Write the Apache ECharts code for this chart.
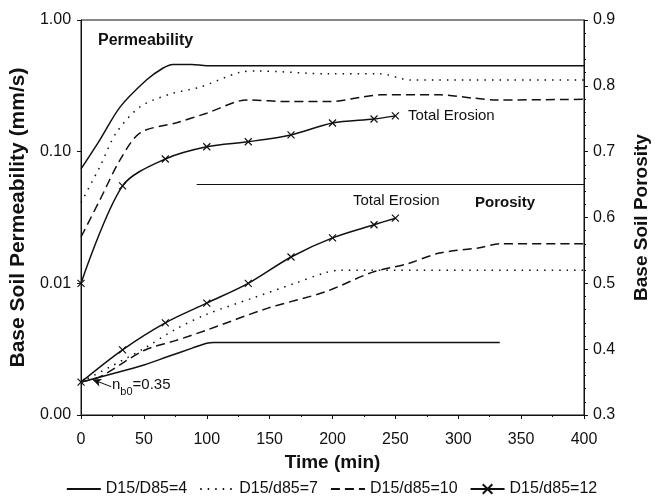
<!DOCTYPE html>
<html><head><meta charset="utf-8">
<script src="https://cdn.jsdelivr.net/npm/echarts@6/dist/echarts.min.js"></script>
<style>html,body{margin:0;padding:0;background:#fff}#c{width:663px;height:499px}</style>
</head><body><div id="c"></div>
<script>
// ---- data ----
const seriesNames = ['D15/D85=4', 'D15/d85=7', 'D15/d85=10', 'D15/d85=12'];

// Permeability (mm/s), left log axis
const permT4  = [0, 15, 31, 52, 65, 73, 88, 100, 400];
const perm4   = [0.074, 0.123, 0.218, 0.35, 0.43, 0.46, 0.46, 0.45, 0.45];
const permT7  = [0, 15, 28, 47, 71, 95, 126, 140, 198, 238, 262, 400];
const perm7   = [0.041, 0.077, 0.139, 0.219, 0.274, 0.31, 0.40, 0.41, 0.39, 0.39, 0.35, 0.35];
const permT10 = [0, 15, 31, 47, 76, 100, 132, 166, 198, 224, 238, 286, 312, 331, 400];
const perm10  = [0.0225, 0.043, 0.0865, 0.139, 0.166, 0.196, 0.247, 0.24, 0.24, 0.26, 0.27, 0.27, 0.255, 0.247, 0.25];
const permT12 = [0, 33, 67, 100, 133, 167, 200, 233, 250];
const perm12  = [0.01, 0.055, 0.088, 0.109, 0.119, 0.134, 0.165, 0.177, 0.187];

// Porosity, right linear axis
const porT4  = [0, 50, 68, 89, 100, 106, 333];
const por4   = [0.35, 0.376, 0.388, 0.402, 0.409, 0.41, 0.41];
const porT7  = [0, 25, 50, 75, 100, 137, 170, 194, 206, 400];
const por7   = [0.35, 0.375, 0.401, 0.43, 0.453, 0.478, 0.50, 0.516, 0.52, 0.52];
const porT10 = [0, 15, 50, 75, 100, 148, 194, 232, 260, 285, 317, 333, 400];
const por10  = [0.35, 0.358, 0.398, 0.413, 0.429, 0.462, 0.487, 0.517, 0.53, 0.546, 0.554, 0.56, 0.56];
const porT12 = [0, 33, 67, 100, 133, 167, 200, 233, 250];
const por12  = [0.35, 0.399, 0.44, 0.47, 0.50, 0.54, 0.569, 0.589, 0.599];

// annotations (data coordinates on porosity axis)
const dividerT = [92, 400];
const dividerPor = 0.651;
const arrowFrom = [24, 0.343];
const arrowTo = [9, 0.354];

const xTickLabels = ['0', '50', '100', '150', '200', '250', '300', '350', '400'];

// ---- chart ----
const FONT = 'Liberation Sans, Arial, sans-serif';
const pair = (t, v) => t.map((x, i) => [x, v[i]]);
const crossSym = 'path://M0,0L10,10M10,0L0,10';

function lineSeries(name, data, yIdx, dash, marker) {
  const s = {
    name: name, type: 'line', yAxisIndex: yIdx, data: data,
    smooth: 0.3,
    lineStyle: { color: '#111', width: 1.5, type: dash },
    itemStyle: { color: '#111', borderColor: '#111', borderWidth: 1.2 },
    emphasis: { disabled: true }, animation: false, z: 3
  };
  if (marker) { s.symbol = crossSym; s.symbolSize = 7; s.showSymbol = true; }
  else { s.symbol = 'none'; }
  return s;
}

const dotted = [1.5, 6];
const dashed = [9, 5];

const series = [
  lineSeries(seriesNames[0], pair(permT4, perm4), 0, 'solid', false),
  lineSeries(seriesNames[1], pair(permT7, perm7), 0, dotted, false),
  lineSeries(seriesNames[2], pair(permT10, perm10), 0, dashed, false),
  lineSeries(seriesNames[3], pair(permT12, perm12), 0, 'solid', true),
  lineSeries(seriesNames[0], pair(porT4, por4), 1, 'solid', false),
  lineSeries(seriesNames[1], pair(porT7, por7), 1, dotted, false),
  lineSeries(seriesNames[2], pair(porT10, por10), 1, dashed, false),
  lineSeries(seriesNames[3], pair(porT12, por12), 1, 'solid', true)
];
series[4].markLine = {
  silent: true, animation: false,
  label: { show: false },
  symbol: ['none', 'none'],
  lineStyle: { color: '#111', width: 1, type: 'solid' },
  data: [
    [{ coord: [dividerT[0], dividerPor] }, { coord: [dividerT[1], dividerPor] }],
    [{ coord: arrowFrom, symbol: 'none' }, { coord: arrowTo, symbol: 'arrow', symbolSize: [6, 9] }]
  ]
};

const hiddenSym = { color: 'transparent', borderColor: 'transparent', borderWidth: 0, opacity: 0 };
const legendData = seriesNames.map((n, i) => i < 3 ? { name: n, itemStyle: hiddenSym } : { name: n });

const chart = echarts.init(document.getElementById('c'));
chart.setOption({
  backgroundColor: '#fff',
  animation: false,
  textStyle: { fontFamily: FONT, color: '#111' },
  grid: { left: 81, right: 79, top: 20, bottom: 84, show: true, borderColor: '#111', borderWidth: 1, backgroundColor: 'transparent' },
  legend: {
    data: legendData, left: 'center', top: 476,
    itemWidth: 34, itemHeight: 12, itemGap: 12,
    textStyle: { fontFamily: FONT, fontSize: 16, color: '#111' },
    selectedMode: false
  },
  xAxis: {
    type: 'value', min: 0, max: 400, interval: 50,
    name: 'Time (min)', nameLocation: 'middle', nameGap: 31,
    nameTextStyle: { fontFamily: FONT, fontSize: 19, fontWeight: 'bold', color: '#111' },
    axisLine: { lineStyle: { color: '#111', width: 1 } },
    axisTick: { show: true, length: 4, lineStyle: { color: '#111' } },
    minorTick: { show: true, splitNumber: 2, length: 2, lineStyle: { color: '#111' } },
    axisLabel: { fontSize: 16, color: '#111', margin: 17, formatter: v => xTickLabels[Math.round(v / 50)] },
    splitLine: { show: false }
  },
  yAxis: [
    {
      type: 'log', logBase: 10, min: 0.001, max: 1,
      name: 'Base Soil Permeability (mm/s)', nameLocation: 'middle', nameGap: 40, nameRotate: 90,
      nameTextStyle: { fontFamily: FONT, fontSize: 21, fontWeight: 'bold', color: '#111' },
      axisLine: { show: true, lineStyle: { color: '#111', width: 1 } },
      axisTick: { show: true, length: 4, lineStyle: { color: '#111' } },
      axisLabel: { fontSize: 16, color: '#111', margin: 10, formatter: v => Number(v).toFixed(2) },
      splitLine: { show: false }
    },
    {
      type: 'value', min: 0.3, max: 0.9, interval: 0.1, position: 'right',
      name: 'Base Soil Porosity', nameLocation: 'middle', nameGap: 48, nameRotate: 90,
      nameTextStyle: { fontFamily: FONT, fontSize: 19, fontWeight: 'bold', color: '#111' },
      axisLine: { show: true, lineStyle: { color: '#111', width: 1 } },
      axisTick: { show: true, length: 4, lineStyle: { color: '#111' } },
      minorTick: { show: true, splitNumber: 5, length: 2, lineStyle: { color: '#111' } },
      axisLabel: { fontSize: 16, color: '#111', margin: 9, formatter: v => Number(v).toFixed(1) },
      splitLine: { show: false }
    }
  ],
  graphic: [
    { type: 'text', left: 98, top: 33, style: { text: 'Permeability', font: 'bold 16px ' + FONT, fill: '#111' } },
    { type: 'text', left: 408, top: 108, style: { text: 'Total Erosion', font: '15px ' + FONT, fill: '#111' } },
    { type: 'text', left: 353, top: 193, style: { text: 'Total Erosion', font: '15px ' + FONT, fill: '#111' } },
    { type: 'text', left: 475, top: 195, style: { text: 'Porosity', font: 'bold 15px ' + FONT, fill: '#111' } },
    { type: 'text', left: 112, top: 377, style: {
        text: '{n|n}{s|b0}{n|=0.35}',
        rich: { n: { fontFamily: FONT, fontSize: 15, fill: '#111', verticalAlign: 'top' }, s: { fontFamily: FONT, fontSize: 11, fill: '#111', padding: [9, 0, 0, 0] } }
    } }
  ],
  series: series
});
</script>
</body></html>
